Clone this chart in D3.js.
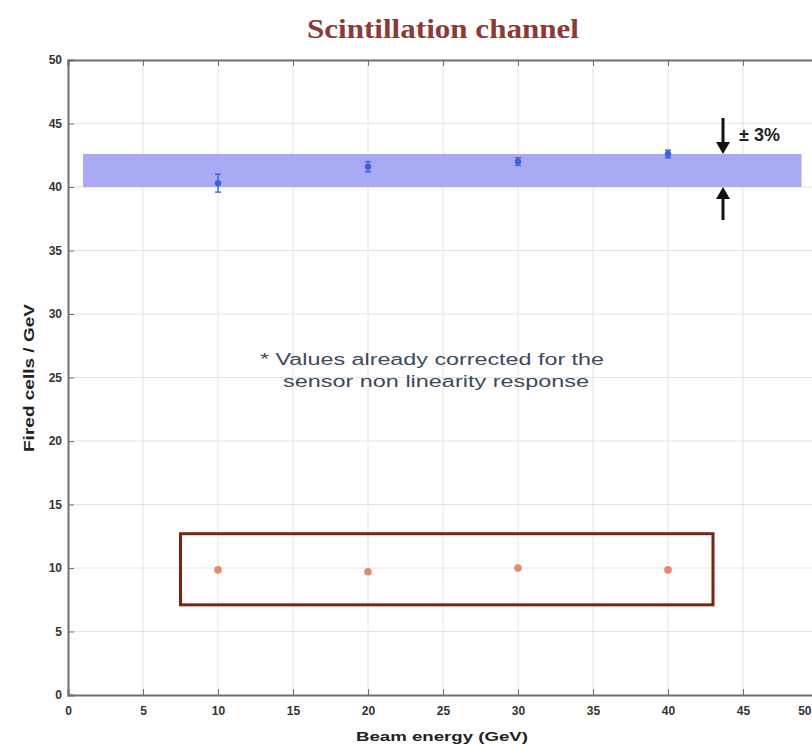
<!DOCTYPE html>
<html>
<head>
<meta charset="utf-8">
<script src="https://cdn.jsdelivr.net/npm/d3@7"></script>
<style>
  html, body { margin: 0; padding: 0; background: #fff; }
  svg { display: block; }
</style>
</head>
<body>
<div id="chart"></div>
<script>
// Beam energies (GeV) and measured fired cells per GeV
const energies = [10, 20, 30, 40];
const scintValues = [40.3, 41.6, 42.0, 42.6];
const scintErrors = [0.7, 0.4, 0.3, 0.3];
const otherValues = [9.85, 9.7, 10.0, 9.85];

// ±3% band around the scintillation response
const bandRange = [40.0, 42.6];
const bandEnergy = [1.0, 48.9];
// Box drawn around the low-response points
const boxEnergy = [7.5, 43.0];
const boxRange = [7.1, 12.7];

const xTicks = [0, 5, 10, 15, 20, 25, 30, 35, 40, 45, 50];
const yTicks = [0, 5, 10, 15, 20, 25, 30, 35, 40, 45, 50];

const W = 812, H = 745;
const svg = d3.select("#chart").append("svg").attr("width", W).attr("height", H);

const x = d3.scaleLinear().domain([0, 50]).range([68, 818]);
const y = d3.scaleLinear().domain([0, 50]).range([695, 60]);

const sans = "'Liberation Sans', Arial, sans-serif";

// Grid lines
const grid = svg.append("g");
grid.selectAll("line.vx").data(xTicks.slice(1)).join("line")
  .attr("x1", d => x(d)).attr("x2", d => x(d))
  .attr("y1", y(0)).attr("y2", y(50))
  .attr("stroke", "#e4e4e4").attr("stroke-width", 1);
grid.selectAll("line.hy").data(yTicks.slice(1)).join("line")
  .attr("x1", x(0)).attr("x2", x(50))
  .attr("y1", d => y(d)).attr("y2", d => y(d))
  .attr("stroke", "#e4e4e4").attr("stroke-width", 1);

// Band
svg.append("rect")
  .attr("x", x(bandEnergy[0])).attr("width", x(bandEnergy[1]) - x(bandEnergy[0]))
  .attr("y", y(bandRange[1])).attr("height", y(bandRange[0]) - y(bandRange[1]))
  .attr("fill", "#a9a9f4");

// Axes (ticks pointing inwards)
const axisColor = "#707070";
const xAxis = svg.append("g").attr("transform", `translate(0,${y(0)})`)
  .call(d3.axisBottom(x).tickValues(xTicks).tickSize(-6).tickPadding(11).tickFormat(d3.format("d")));
const xAxisTop = svg.append("g").attr("transform", `translate(0,${y(50)})`)
  .call(d3.axisTop(x).tickValues(xTicks).tickSize(-6).tickFormat(""));
const yAxis = svg.append("g").attr("transform", `translate(${x(0)},0)`)
  .call(d3.axisLeft(y).tickValues(yTicks).tickSize(-6).tickPadding(6).tickFormat(d3.format("d")));
[xAxis, xAxisTop, yAxis].forEach(g => {
  g.select(".domain").attr("stroke", axisColor).attr("stroke-width", 2);
  g.selectAll(".tick line").attr("stroke", axisColor).attr("stroke-width", 1);
  g.selectAll(".tick text")
    .attr("fill", "#333")
    .style("font-family", sans)
    .style("font-weight", "bold")
    .style("font-size", "12px");
});
// keep the last x label inside the page
xAxis.selectAll(".tick text").filter(d => d === 50)
  .attr("text-anchor", "end").attr("dx", W - 1 - x(50));

// Scintillation points with error bars
const pts = svg.append("g");
energies.forEach((e, i) => {
  const cx = x(e), v = scintValues[i], err = scintErrors[i];
  pts.append("line")
    .attr("x1", cx).attr("x2", cx)
    .attr("y1", y(v - err)).attr("y2", y(v + err))
    .attr("stroke", "#4a64d6").attr("stroke-width", 1.5);
  [v - err, v + err].forEach(c => {
    pts.append("line")
      .attr("x1", cx - 3).attr("x2", cx + 3)
      .attr("y1", y(c)).attr("y2", y(c))
      .attr("stroke", "#4a64d6").attr("stroke-width", 1.5);
  });
  pts.append("circle").attr("cx", cx).attr("cy", y(v)).attr("r", 3.2)
    .attr("fill", "#3f5fd8");
});

// Low-response points
energies.forEach((e, i) => {
  pts.append("circle").attr("cx", x(e)).attr("cy", y(otherValues[i])).attr("r", 3.8)
    .attr("fill", "#e6896c");
});

// Box around the low-response points
svg.append("rect")
  .attr("x", x(boxEnergy[0])).attr("width", x(boxEnergy[1]) - x(boxEnergy[0]))
  .attr("y", y(boxRange[1])).attr("height", y(boxRange[0]) - y(boxRange[1]))
  .attr("fill", "none").attr("stroke", "#7a2414").attr("stroke-width", 3);

// ±3% arrows
const ax = 723;
const arrows = svg.append("g").attr("stroke", "#111").attr("fill", "#111");
arrows.append("line").attr("x1", ax).attr("x2", ax)
  .attr("y1", y(bandRange[1]) - 36).attr("y2", y(bandRange[1]) - 8).attr("stroke-width", 3);
arrows.append("path")
  .attr("d", `M${ax - 7},${y(bandRange[1]) - 12} L${ax + 7},${y(bandRange[1]) - 12} L${ax},${y(bandRange[1])} Z`)
  .attr("stroke", "none");
arrows.append("line").attr("x1", ax).attr("x2", ax)
  .attr("y1", y(bandRange[0]) + 8).attr("y2", y(bandRange[0]) + 33).attr("stroke-width", 3);
arrows.append("path")
  .attr("d", `M${ax - 7},${y(bandRange[0]) + 12} L${ax + 7},${y(bandRange[0]) + 12} L${ax},${y(bandRange[0])} Z`)
  .attr("stroke", "none");
svg.append("text")
  .attr("x", 739).attr("y", 141)
  .style("font-family", sans)
  .style("font-weight", "bold").style("font-size", "18px")
  .attr("fill", "#222")
  .text("± 3%");

// Note
const note = svg.append("text")
  .attr("text-anchor", "middle")
  .style("font-family", sans)
  .style("font-size", "16px")
  .attr("fill", "#3d4a5c");
note.append("tspan").attr("x", 432).attr("y", 365)
  .attr("textLength", 344).attr("lengthAdjust", "spacingAndGlyphs")
  .text("* Values already corrected for the");
note.append("tspan").attr("x", 436).attr("y", 387)
  .attr("textLength", 306).attr("lengthAdjust", "spacingAndGlyphs")
  .text("sensor non linearity response");

// Title
svg.append("text")
  .attr("x", 443).attr("y", 38).attr("text-anchor", "middle")
  .style("font-family", "'Liberation Serif', 'DejaVu Serif', serif")
  .style("font-weight", "bold").style("font-size", "28px")
  .attr("textLength", 272).attr("lengthAdjust", "spacingAndGlyphs")
  .attr("fill", "#8b3a36")
  .text("Scintillation channel");

// Axis labels
svg.append("text")
  .attr("x", 442).attr("y", 741).attr("text-anchor", "middle")
  .style("font-family", sans)
  .style("font-weight", "bold").style("font-size", "13px")
  .attr("textLength", 172).attr("lengthAdjust", "spacingAndGlyphs")
  .attr("fill", "#222")
  .text("Beam energy (GeV)");
svg.append("text")
  .attr("transform", "translate(34,378) rotate(-90)")
  .attr("text-anchor", "middle")
  .style("font-family", sans)
  .style("font-weight", "bold").style("font-size", "14px")
  .attr("textLength", 148).attr("lengthAdjust", "spacingAndGlyphs")
  .attr("fill", "#222")
  .text("Fired cells / GeV");
</script>
</body>
</html>
